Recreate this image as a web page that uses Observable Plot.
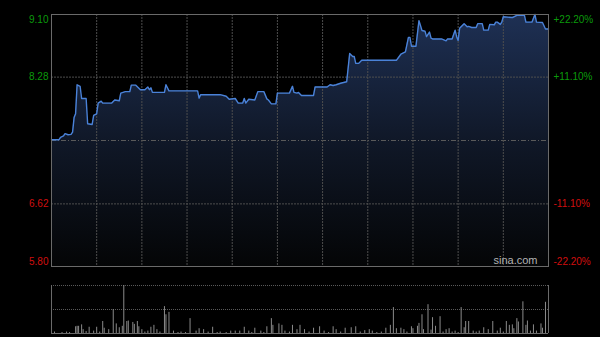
<!DOCTYPE html>
<html><head><meta charset="utf-8">
<script src="https://cdn.jsdelivr.net/npm/d3@7"></script>
<script src="https://cdn.jsdelivr.net/npm/@observablehq/plot@0.6"></script>
<style>
html,body{margin:0;padding:0;background:#000;width:600px;height:337px;overflow:hidden}
#wrap{position:relative;width:600px;height:337px;background:#000}
#main{position:absolute;left:0;top:0}
#vol{position:absolute;left:0;top:280px}
svg{display:block}
</style></head><body><div id="wrap"><div id="main"></div><div id="vol"></div></div>
<script>
// ---- data ----
const prevClose = 7.45;
const yMin = 5.80, yMax = 9.10;
const sessionMinutes = 330;
const leftTicks = [9.10, 8.28, 6.62, 5.80];
const leftLabels = ["9.10", "8.28", "6.62", "5.80"];
const rightLabels = ["+22.20%", "+11.10%", "-11.10%", "-22.20%"];
const gridMinutes = [30, 60, 90, 120, 150, 180, 210, 240, 270, 300];

const times = [0,5,6,8,9,11,13,14,15,16,
  17,19,20,23,24,27,28,30,31,33,
  34,40,42,45,46,49,52,53,56,59,
  62,64,65,66,67,75,76,78,97,98,
  99,112,116,118,122,124,127,128,129,131,
  135,137,141,143,144,146,149,150,158,160,
  161,163,164,166,174,175,183,185,187,189,
  192,196,198,200,201,202,204,206,229,232,
  235,237,238,239,242,244,246,248,249,251,
  252,253,259,262,263,266,268,269,270,271,
  274,276,277,279,282,283,286,287,290,291,
  294,295,296,298,299,300,306,309,314,315,
  319,321,322,326,328,330];
const prices = [7.46,7.46,7.49,7.51,7.54,7.525,7.53,7.56,7.75,7.80,
  8.18,8.16,8.00,8.00,7.67,7.66,7.78,7.80,7.94,7.965,
  7.94,7.94,7.98,7.97,8.07,8.09,8.09,8.175,8.175,8.115,
  8.115,8.15,8.115,8.14,8.08,8.08,8.18,8.10,8.10,8.005,
  8.05,8.05,8.03,7.99,8.00,7.94,7.94,8.00,7.94,7.99,
  7.98,8.09,8.09,7.995,7.98,7.93,7.93,8.07,8.07,8.16,
  8.08,8.07,8.08,8.04,8.04,8.15,8.15,8.18,8.17,8.18,
  8.20,8.22,8.59,8.55,8.55,8.46,8.46,8.50,8.50,8.58,
  8.61,8.80,8.80,8.685,8.685,9.02,8.89,8.88,8.81,8.87,
  8.79,8.78,8.78,8.755,8.78,8.78,8.895,8.81,8.76,8.92,
  8.98,8.94,8.945,8.93,8.93,8.98,8.98,8.895,8.895,8.97,
  8.965,9.00,9.00,8.97,9.00,9.07,9.06,9.09,9.09,9.00,
  9.00,9.10,9.00,8.995,8.91,8.91];

const volMinutes = [2,7,10,12,16,17,18,20,21,23,25,28,30,32,34,35,38,41,43,45,47,48,50,51,54,55,57,58,60,62,64,66,68,70,72,75,76,78,81,84,86,89,92,96,98,101,104,107,110,112,116,119,122,125,128,131,133,135,139,141,143,146,147,151,153,155,158,160,163,165,168,171,174,178,181,184,187,189,192,195,199,202,205,208,211,213,216,219,222,225,227,229,232,234,236,239,240,243,244,246,247,250,252,253,255,258,260,262,264,266,268,270,272,274,275,277,280,282,284,287,290,293,296,298,300,302,304,306,307,309,310,313,315,316,318,320,322,325,326,328,330];
const volValues = [3,2,3,2,14,15,15,18,8,4,13,5,13,3,25,11,8,50,20,12,15,100,25,26,23,19,25,14,8,3,5,13,17,8,3,56,39,44,5,2,3,2,31,5,10,8,3,13,2,3,2,5,5,5,13,5,2,11,5,2,14,31,17,20,17,5,3,17,8,17,8,3,11,14,5,2,14,8,3,11,12,14,3,6,8,5,2,3,11,17,54,10,11,8,3,14,10,15,21,39,8,60,7,33,15,35,3,8,10,3,5,2,54,12,25,25,5,3,5,12,8,25,5,11,3,25,17,18,10,31,24,66,17,26,5,18,5,20,11,65,8];

// ---- build ----
const series = times.map((t, i) => ({t, p: prices[i]}));
const vol = volMinutes.map((t, i) => ({t, v: volValues[i]}));
const volMax = d3.max(volValues);
const green = "#0b9a0b", red = "#d20f0f";
const gridStroke = "#4e4e4e";
const fontFamily = "'Liberation Sans', Arial, Helvetica, sans-serif";

const tickMarks = [];
leftTicks.forEach((v, i) => {
  const dy = i === 0 ? 5 : (i === leftTicks.length - 1 ? -5 : 0);
  const fill = v > prevClose ? green : red;
  tickMarks.push(Plot.text([v], {y: d => d, text: () => leftLabels[i], frameAnchor: "left", textAnchor: "end", dx: -3, dy, fill, fontSize: 10}));
  tickMarks.push(Plot.text([v], {y: d => d, text: () => rightLabels[i], frameAnchor: "right", textAnchor: "start", dx: 5, dy, fill, fontSize: 10}));
});

const main = Plot.plot({
  width: 600, height: 270,
  marginTop: 14, marginBottom: 4, marginLeft: 51, marginRight: 52,
  style: {background: "transparent", fontFamily, overflow: "visible"},
  x: {domain: [0, sessionMinutes], axis: null},
  y: {domain: [yMin, yMax], axis: null},
  marks: [
    Plot.areaY(series, {x: "t", y1: () => yMin, y2: "p", fill: "url(#priceGrad)"}),
    Plot.ruleY(leftTicks.slice(1, -1), {stroke: gridStroke, strokeDasharray: "2,1"}),
    Plot.ruleY([prevClose], {stroke: "#5a5a5a", strokeDasharray: "5,2,1,2"}),
    Plot.ruleX(gridMinutes, {stroke: gridStroke, strokeDasharray: "2,1"}),
    Plot.line(series, {x: "t", y: "p", stroke: "#4a82d8", strokeWidth: 1.4}),
    Plot.frame({stroke: "#6a6a6a"}),
    Plot.text(["sina.com"], {text: d => d, frameAnchor: "bottom-right", textAnchor: "end", dx: -11, dy: -3, fill: "#b4b4b4", fontSize: 11}),
    ...tickMarks
  ]
});
const defs = d3.select(main).insert("defs", ":first-child");
const grad = defs.append("linearGradient").attr("id", "priceGrad")
  .attr("gradientUnits", "userSpaceOnUse").attr("x1", 0).attr("x2", 0).attr("y1", 14).attr("y2", 266);
grad.append("stop").attr("offset", "0%").attr("stop-color", "#1e3054");
grad.append("stop").attr("offset", "50%").attr("stop-color", "#101828");
grad.append("stop").attr("offset", "100%").attr("stop-color", "#040506");
document.getElementById("main").appendChild(main);

const volPlot = Plot.plot({
  width: 600, height: 57,
  marginTop: 5, marginBottom: 4, marginLeft: 51, marginRight: 52,
  style: {background: "transparent", fontFamily, overflow: "visible"},
  x: {domain: [0, sessionMinutes], axis: null},
  y: {domain: [0, volMax], axis: null},
  marks: [
    Plot.ruleY([volMax, volMax / 2], {stroke: "#5a5a5a", strokeDasharray: "1,1"}),
    Plot.ruleX(vol, {x: "t", y1: () => 0, y2: "v", stroke: "#8a8a8a", strokeWidth: 1}),
    Plot.ruleY([0], {stroke: "#6a6a6a"}),
    Plot.ruleX([0, sessionMinutes], {stroke: "#6a6a6a"})
  ]
});
document.getElementById("vol").appendChild(volPlot);
</script>
</body></html>
